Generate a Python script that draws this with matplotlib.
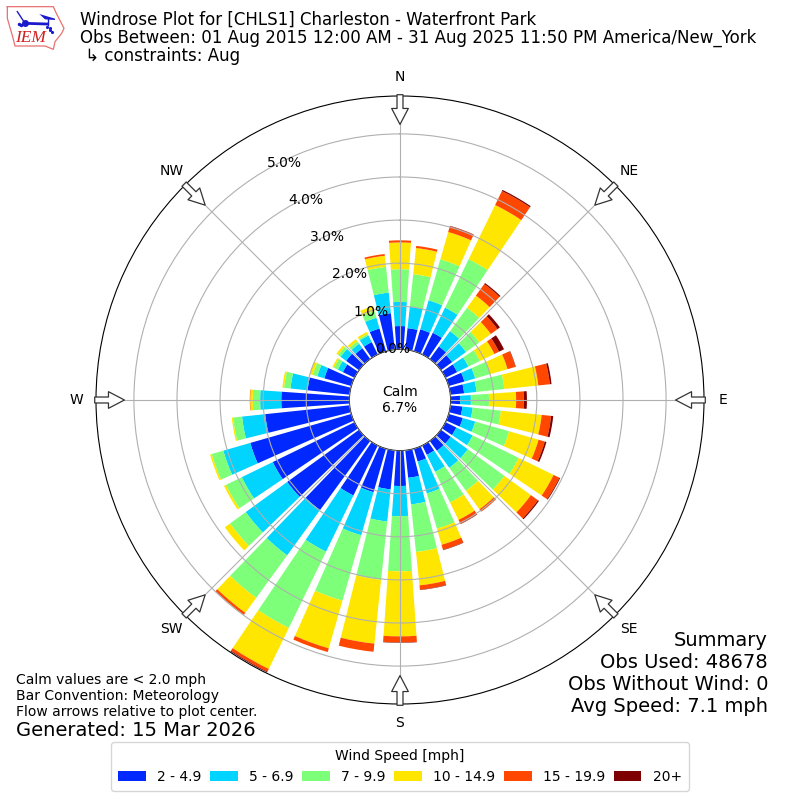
import numpy as np
import matplotlib
matplotlib.use("Agg")
import matplotlib.pyplot as plt

# direction bins in degrees, one bar every 10 deg
directions = list(range(0, 360, 10))

# percent of obs per direction and speed bin
speed_2_5 = [.54, .50, .53, .56, .36, .32, .30, .38, .32, .22, .28, .34,
             .28, .28, .28, .24, .31, .64, .82, .91, 1.05, 1.29, 1.98, 2.06,
             2.11, 2.44, 1.97, 1.58, .98, .65, .30, .37, .31, .32, .55, .85]
speed_5_7 = [.56, .50, .70, .65, .44, .40, .29, .26, .29, .25, .24, .30,
             .42, .49, .49, .44, .77, .62, .70, .75, 1.04, 1.45, 1.30, 1.19,
             .80, .65, .54, .49, .40, .17, .13, .16, .13, .17, .26, .48]
speed_7_10 = [.76, .76, .99, 1.25, .67, .38, .30, .36, .65, .42, .66, .82,
              1.19, 1.05, .66, .79, .85, 1.11, 1.28, 1.36, 1.58, 1.97, 1.22, .45,
              .41, .28, .21, .17, .15, .11, .10, .07, .07, .04, .16, .60]
speed_10_15 = [.62, .61, .66, 1.40, .35, .33, .37, .42, .79, .63, .95, .71,
               .90, .76, .53, .45, .39, .78, 1.51, 1.49, 1.15, 1.06, .43, .15,
               .05, .04, .03, .06, .04, .07, .04, .05, .06, .05, .12, .26]
speed_15_20 = [.05, .05, .14, .36, .33, .19, .12, .19, .27, .18, .22, .15,
               .15, .20, .07, .10, .12, .10, .14, .19, .09, .07, .06, .00,
               .00, .00, .00, .01, .00, .00, .00, .00, .00, .00, .00, .04]
speed_20_up = [.00, .00, .01, .03, .03, .07, .13, .01, .04, .07, .05, .04,
               .02, .03, .00, .01, .01, .01, .01, .00, .00, .02, .00, .00,
               .00, .00, .00, .00, .00, .00, .00, .00, .00, .00, .00, .00]

speed_labels = ["2 - 4.9", "5 - 6.9", "7 - 9.9", "10 - 14.9", "15 - 19.9", "20+"]
speed_colors = ["#0028ff", "#00d4ff", "#7dff7a", "#ffe600", "#ff4700", "#7f0000"]

compass_angles = [0, 45, 90, 135, 180, 225, 270, 315]
compass_labels = ["N", "NE", "E", "SE", "S", "SW", "W", "NW"]
ring_values = [0, 1, 2, 3, 4, 5]

rmax = 5.88

fig = plt.figure(figsize=(8, 8), dpi=100)
ax = fig.add_axes([0.12, 0.12, 0.76, 0.76], projection="polar")
ax.set_theta_zero_location("N")
ax.set_theta_direction(-1)
ax.set_axisbelow(False)

theta = np.radians(directions)
bottom = np.zeros(len(directions))
for values, label, color in zip(
    [speed_2_5, speed_5_7, speed_7_10, speed_10_15, speed_15_20, speed_20_up],
    speed_labels, speed_colors,
):
    ax.bar(theta, values, width=np.radians(8), bottom=bottom, color=color,
           linewidth=0, label=label)
    bottom = bottom + np.array(values)

ax.set_rorigin(-0.2 * rmax)
ax.set_rlim(0, rmax)
ax.set_thetagrids(compass_angles, compass_labels)
ax.set_yticks(ring_values)
ax.set_yticklabels(["%.1f%%" % v for v in ring_values])
ax.set_rlabel_position(330)
ax.grid(True)

# direction arrows on the outer ring, pointing at the center
for angle in compass_angles:
    ax.annotate("", xy=(np.radians(angle), 5.22), xytext=(np.radians(angle), 5.91),
                annotation_clip=False, zorder=6,
                arrowprops=dict(facecolor="white", edgecolor="#333333", linewidth=0.9,
                                width=4.3, headwidth=12, headlength=11.5, shrink=0))

fig.text(0.5, 0.5, "Calm\n6.7%", ha="center", va="center", fontsize=10)

# header
fig.text(0.1, 0.97475, "Windrose Plot for [CHLS1] Charleston - Waterfront Park",
         fontsize=12, va="center")
fig.text(0.1, 0.95225, "Obs Between: 01 Aug 2015 12:00 AM - 31 Aug 2025 11:50 PM America/New_York",
         fontsize=12, va="center")
fig.text(0.1, 0.92975, " \u21b3 constraints: Aug", fontsize=12, va="center")

# footers
fig.text(0.02, 0.15, "Calm values are < 2.0 mph", fontsize=10, va="center")
fig.text(0.02, 0.13, "Bar Convention: Meteorology", fontsize=10, va="center")
fig.text(0.02, 0.11, "Flow arrows relative to plot center.", fontsize=10, va="center")
fig.text(0.02, 0.0875, "Generated: 15 Mar 2026", fontsize=14, va="center")

fig.text(0.96, 0.2, "Summary", fontsize=14, ha="right", va="center")
fig.text(0.96, 0.1715, "Obs Used: 48678", fontsize=14, ha="right", va="center")
fig.text(0.96, 0.144, "Obs Without Wind: 0", fontsize=14, ha="right", va="center")
fig.text(0.96, 0.1165, "Avg Speed: 7.1 mph", fontsize=14, ha="right", va="center")

handles, labels = ax.get_legend_handles_labels()
fig.legend(handles, labels, title="Wind Speed [mph]", loc="lower center",
           bbox_to_anchor=(0.5, 0.0025), ncol=6, fontsize=10, title_fontsize=10,
           columnspacing=0.62, borderpad=0.5)

# logo, drawn in a small axes of its own
logo = fig.add_axes([0, 1 - 55 / 800, 70 / 800, 55 / 800])
logo.set_xlim(0, 210)
logo.set_ylim(165, 0)
logo.axis("off")
logo.plot([22, 160, 168, 192, 185, 165, 160, 135, 45, 38, 22, 22],
          [20, 20, 38, 85, 100, 125, 148, 138, 138, 110, 55, 20],
          color="#e87070", lw=0.9)
logo.plot([75, 140], [70, 72], color="#1a1acc", lw=2)
logo.plot([52, 75], [35, 70], color="#1a1acc", lw=1)
logo.fill([118, 165, 165, 135], [42, 56, 60, 58], color="#1a1acc", lw=0)
logo.plot([145, 145], [58, 75], color="#1a1acc", lw=1)
logo.plot([140, 150, 155, 150], [80, 85, 95, 90], ".", color="#1a1acc", ms=2.5)
logo.plot([58, 62], [72, 75], ".", color="#1a1acc", ms=3)
logo.plot([75], [70], "o", color="#1a1acc", ms=4)
logo.text(90, 114, "IEM", color="#d02020", family="Liberation Serif", style="italic",
          fontsize=12.5, ha="center", va="center")

fig.savefig("out.png", dpi=100)
